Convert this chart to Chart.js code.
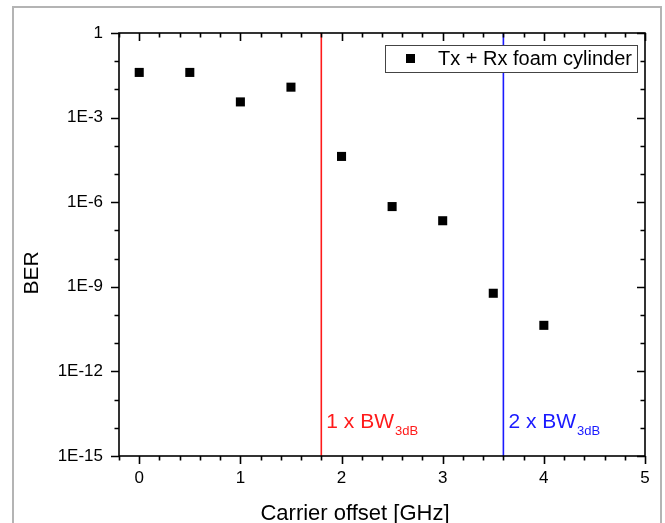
<!DOCTYPE html>
<html>
<head>
<meta charset="utf-8">
<script src="https://cdn.jsdelivr.net/npm/chart.js@4.4.1/dist/chart.umd.min.js"></script>
<style>
  body { margin: 0; background: #fff; }
  #wrap { width: 665px; height: 523px; }
</style>
</head>
<body>
<div id="wrap"><canvas id="myChart" width="665" height="523"></canvas></div>
<script>
const offsets = [0, 0.5, 1, 1.5, 2, 2.5, 3, 3.5, 4];
const berValues = [0.040, 0.040, 0.0036, 0.012, 4.2e-5, 7.0e-7, 2.2e-7, 5.9e-10, 4.3e-11];
const seriesName = 'Tx + Rx foam cylinder';

const xTicks = [0, 1, 2, 3, 4, 5];
const yTicks = [1e-15, 1e-12, 1e-9, 1e-6, 1e-3, 1];
const yTickLabels = ['1E-15', '1E-12', '1E-9', '1E-6', '1E-3', '1'];

const bwLines = [1.8, 3.6];
const bwLabels = ['1 x BW', '2 x BW'];
const bwColors = ['#ff1a1a', '#1a1aff'];
const bwLabelLevel = 1e-14;

const FONT = 'Arial, "Liberation Sans", sans-serif';

const ctx = document.getElementById('myChart').getContext('2d');

const boxPlugin = {
    id: 'boxPlugin',
    beforeDraw(chart) {
        const c = chart.ctx;
        c.save();
        c.fillStyle = '#fff';
        c.fillRect(0, 0, chart.width, chart.height);
        c.strokeStyle = '#b4b4b4';
        c.lineWidth = 2;
        c.strokeRect(13, 7, 648, 600);
        c.restore();
    },
    afterDraw(chart) {
        const c = chart.ctx;
        const a = chart.chartArea;
        const xs = chart.scales.x;
        const ys = chart.scales.y;
        c.save();
        c.strokeStyle = '#000';
        c.lineWidth = 1.6;
        c.strokeRect(a.left, a.top, a.right - a.left, a.bottom - a.top);

        // x ticks: bottom outward, top inward
        for (let i = -1; i <= 25; i++) {
            const v = i * 0.2;
            const px = Math.round(xs.getPixelForValue(v)) + 0.5;
            const major = i % 5 === 0;
            const len = major ? 8 : 4.5;
            c.beginPath();
            c.moveTo(px, a.bottom);
            c.lineTo(px, a.bottom + len);
            c.moveTo(px, a.top);
            c.lineTo(px, a.top + len);
            c.stroke();
        }
        // y ticks: left outward, right inward
        for (let e = -15; e <= 0; e++) {
            const py = Math.round(ys.getPixelForValue(Math.pow(10, e))) + 0.5;
            const major = e % 3 === 0;
            const len = major ? 8 : 4.5;
            c.beginPath();
            c.moveTo(a.left, py);
            c.lineTo(a.left - len, py);
            c.moveTo(a.right, py);
            c.lineTo(a.right - len, py);
            c.stroke();
        }

        // bandwidth labels
        bwLines.forEach((v, i) => {
            const px = xs.getPixelForValue(v) + 5;
            const py = ys.getPixelForValue(bwLabelLevel);
            c.fillStyle = bwColors[i];
            c.textBaseline = 'alphabetic';
            c.textAlign = 'left';
            c.font = '21px ' + FONT;
            c.fillText(bwLabels[i], px, py);
            const w = c.measureText(bwLabels[i]).width;
            c.font = '13px ' + FONT;
            c.fillText('3dB', px + w + 1, py + 7);
        });

        // legend
        const lx = a.right - 260, ly = a.top + 12, lw = 252, lh = 27;
        c.fillStyle = '#fff';
        c.fillRect(lx, ly, lw, lh);
        c.strokeStyle = '#444';
        c.lineWidth = 1;
        c.strokeRect(lx + 0.5, ly + 0.5, lw, lh);
        c.fillStyle = '#000';
        c.fillRect(lx + 21, ly + 9, 9, 9);
        c.font = '20px ' + FONT;
        c.textBaseline = 'middle';
        c.fillText(seriesName, lx + 53, ly + lh / 2 + 1);

        // axis titles
        c.font = '22px ' + FONT;
        c.textAlign = 'center';
        c.textBaseline = 'alphabetic';
        c.fillText('Carrier offset [GHz]', 355, 520);
        c.save();
        c.translate(38, 273);
        c.rotate(-Math.PI / 2);
        c.font = '21px ' + FONT;
        c.fillText('BER', 0, 0);
        c.restore();
        c.restore();
    }
};

const lineSets = bwLines.map((v, i) => ({
    type: 'line',
    data: [{ x: v, y: 1e-15 }, { x: v, y: 1 }],
    borderColor: bwColors[i],
    borderWidth: 1.6,
    pointRadius: 0,
    fill: false
}));

const myChart = new Chart(ctx, {
    type: 'scatter',
    data: {
        datasets: [{
            label: seriesName,
            data: offsets.map((x, i) => ({ x: x, y: berValues[i] })),
            pointStyle: 'rect',
            pointRadius: 6.4,
            pointHoverRadius: 6.4,
            backgroundColor: '#000',
            borderColor: '#000',
            borderWidth: 0
        }, ...lineSets]
    },
    options: {
        responsive: false,
        animation: false,
        events: [],
        layout: { padding: { left: 0, top: 33, right: 20, bottom: 0 } },
        plugins: {
            legend: { display: false },
            tooltip: { enabled: false }
        },
        scales: {
            x: {
                type: 'linear',
                min: -0.2,
                max: 5,
                grid: { display: false, drawTicks: false },
                border: { display: false },
                afterBuildTicks: (scale) => { scale.ticks = xTicks.map(v => ({ value: v })); },
                afterFit: (scale) => { scale.height = 67; },
                ticks: {
                    padding: 12,
                    color: '#000',
                    font: { family: FONT, size: 17 },
                    maxRotation: 0,
                    callback: (v) => String(v)
                }
            },
            y: {
                type: 'logarithmic',
                min: 1e-15,
                max: 1,
                grid: { display: false, drawTicks: false },
                border: { display: false },
                afterBuildTicks: (scale) => { scale.ticks = yTicks.map(v => ({ value: v })); },
                afterFit: (scale) => { scale.width = 119; },
                ticks: {
                    padding: 16,
                    color: '#000',
                    font: { family: FONT, size: 17 },
                    callback: (v) => yTickLabels[yTicks.indexOf(v)]
                }
            }
        }
    },
    plugins: [boxPlugin]
});
</script>
</body>
</html>
